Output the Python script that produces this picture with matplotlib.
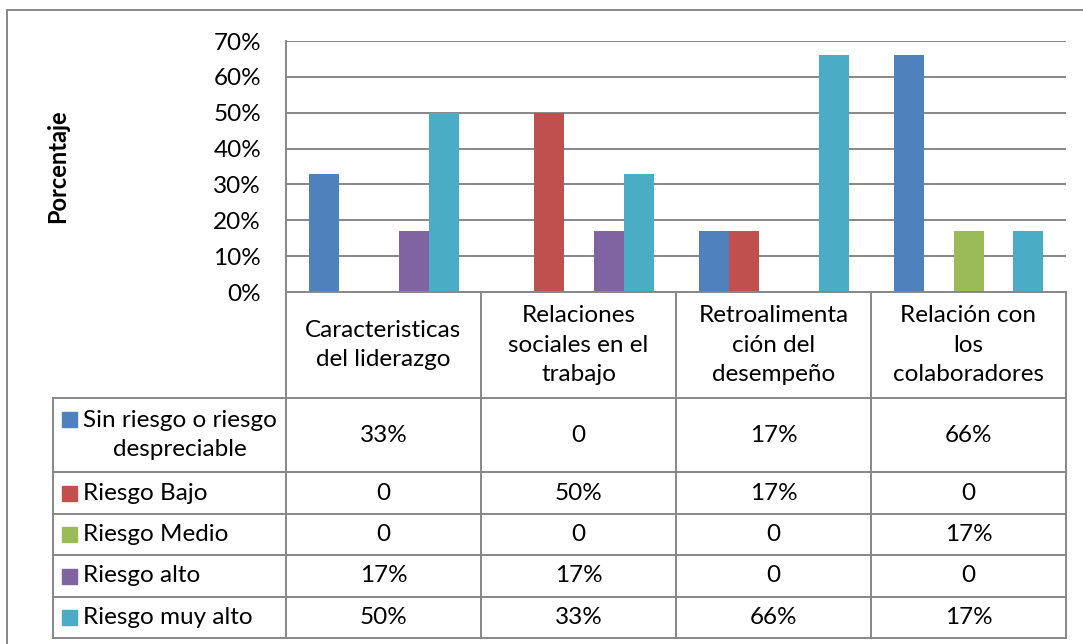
"""Bar chart with Excel-style data table: psychosocial risk by dimension."""

import matplotlib.pyplot as plt
import numpy as np
from matplotlib.patches import Rectangle

plt.rcParams["font.family"] = ["Lato", "DejaVu Sans"]

categories = [
    "Caracteristicas\ndel liderazgo",
    "Relaciones\nsociales en el\ntrabajo",
    "Retroalimenta\nción del\ndesempeño",
    "Relación con\nlos\ncolaboradores",
]
series_names = [
    "Sin riesgo o riesgo\ndespreciable",
    "Riesgo Bajo",
    "Riesgo Medio",
    "Riesgo alto",
    "Riesgo muy alto",
]
sin_riesgo = [0.33, 0.0, 0.17, 0.66]
riesgo_bajo = [0.0, 0.50, 0.17, 0.0]
riesgo_medio = [0.0, 0.0, 0.0, 0.17]
riesgo_alto = [0.17, 0.17, 0.0, 0.0]
riesgo_muy_alto = [0.50, 0.33, 0.66, 0.17]
series = [sin_riesgo, riesgo_bajo, riesgo_medio, riesgo_alto, riesgo_muy_alto]
colors = ["#4F81BD", "#C0504D", "#9BBB59", "#8064A2", "#4BACC6"]
yticks = [0.0, 0.1, 0.2, 0.3, 0.4, 0.5, 0.6, 0.7]

W, H = 1083, 644
GRAY = "#878787"
FS = 17.5
LS = 1.52


def fmt(v):
    return "0" if v == 0 else f"{round(v * 100)}%"


fig = plt.figure(figsize=(W / 100, H / 100), dpi=100)

# outer chart frame (runs off right/bottom edges like the source crop)
fig.add_artist(Rectangle((7 / W, -0.1), 1.2, 1.1 - 10 / H, transform=fig.transFigure,
                         fill=False, edgecolor=GRAY, lw=1.4, clip_on=False))

# plot area
px_left, px_right, px_top, px_zero, px_bottom = 286, 1066, 41, 292, 638
ax = fig.add_axes([px_left / W, 1 - px_zero / H, (px_right - px_left) / W,
                   (px_zero - px_top) / H])
x = np.arange(len(categories))
bw = 30 / 195
for i, (vals, c) in enumerate(zip(series, colors)):
    ax.bar(x + (i - 2) * bw, vals, width=bw, color=c, zorder=3)
ax.set_xlim(-0.5, len(categories) - 0.5)
ax.set_ylim(0, 0.7)
ax.set_yticks(yticks)
ax.set_yticklabels([f"{int(round(t * 100))}%" for t in yticks], fontsize=FS)
ax.tick_params(axis="y", length=0, pad=18)
ax.set_xticks([])
ax.grid(axis="y", color=GRAY, lw=1.4, zorder=0)
for s in ["top", "right", "bottom"]:
    ax.spines[s].set_visible(False)
ax.spines["left"].set_color(GRAY)
ax.spines["left"].set_linewidth(1.4)

fig.text(58 / W, 1 - 166 / H, "Porcentaje", rotation=90, ha="center", va="center",
         fontsize=17, fontweight="bold")

# data table, x in category units to line up with the bars
tbl_left = 53
unit = (px_right - px_left) / len(categories)
x0 = -0.5 - (px_left - tbl_left) / unit
tax = fig.add_axes([tbl_left / W, 1 - px_bottom / H, (px_right - tbl_left) / W,
                    (px_bottom - px_zero) / H])
tax.set_xlim(x0, len(categories) - 0.5)
tax.set_ylim(px_bottom, px_zero)
tax.axis("off")

row_edges = [292, 398, 472, 514, 555, 597, 638]
line_kw = dict(color=GRAY, lw=1.4, clip_on=False, solid_capstyle="projecting")
# horizontal lines
tax.plot([-0.5, 3.5], [row_edges[0]] * 2, **line_kw)
for y in row_edges[1:]:
    tax.plot([x0, 3.5], [y, y], **line_kw)
# vertical lines
tax.plot([x0, x0], [row_edges[1], row_edges[-1]], **line_kw)
for xv in np.arange(len(categories) + 1) - 0.5:
    tax.plot([xv, xv], [row_edges[0], row_edges[-1]], **line_kw)

# header row
for j, cat in enumerate(categories):
    tax.text(j, (row_edges[0] + row_edges[1]) / 2, cat, ha="center", va="center",
             fontsize=FS, linespacing=LS)

# series rows
sw = 15 / unit
lab_x = x0 + (83 - tbl_left) / unit
sw_x = x0 + (62 - tbl_left) / unit
for i, (name, vals, c) in enumerate(zip(series_names, series, colors)):
    yc = (row_edges[i + 1] + row_edges[i + 2]) / 2
    if "\n" in name:
        sy = row_edges[i + 1] + 21
        tax.text(lab_x, yc, name, ha="left", va="center", multialignment="center",
                 fontsize=FS, linespacing=LS)
    else:
        sy = yc
        tax.text(lab_x, yc, name, ha="left", va="center", fontsize=FS)
    tax.add_patch(Rectangle((sw_x, sy - 7.5), sw, 15, color=c, clip_on=False))
    for j, v in enumerate(vals):
        tax.text(j, yc, fmt(v), ha="center", va="center", fontsize=FS)

fig.savefig("out.png", dpi=100)
